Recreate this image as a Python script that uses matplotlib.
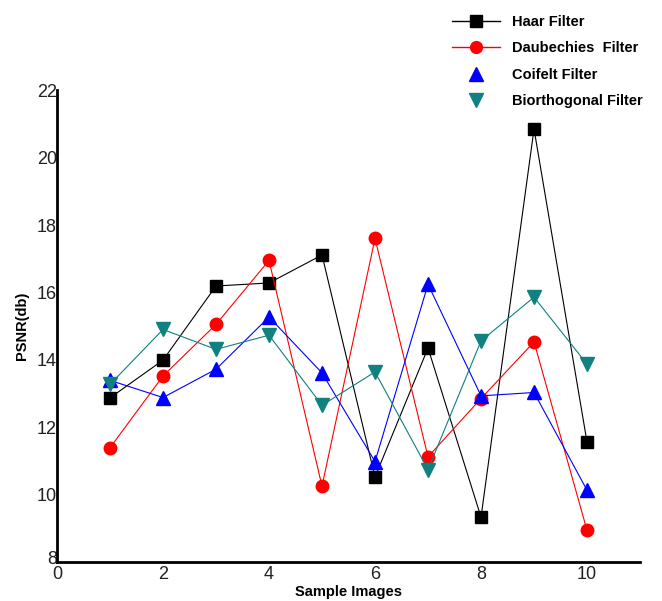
import matplotlib.pyplot as plt
import matplotlib.transforms as mtransforms
from matplotlib.lines import Line2D

images = [1, 2, 3, 4, 5, 6, 7, 8, 9, 10]
haar = [12.87, 13.99, 16.19, 16.28, 17.11, 10.52, 14.35, 9.33, 20.85, 11.56]
daubechies = [11.39, 13.52, 15.05, 16.95, 10.25, 17.60, 11.12, 12.85, 14.53, 8.94]
coifelt = [13.39, 12.88, 13.72, 15.27, 13.61, 10.98, 16.24, 12.93, 13.03, 10.13]
biorthogonal = [13.27, 14.90, 14.31, 14.73, 12.65, 13.64, 10.74, 14.56, 15.86, 13.87]

xticks = [0, 2, 4, 6, 8, 10]
yticks = [8, 10, 12, 14, 16, 18, 20, 22]

fig = plt.figure(figsize=(6.62, 6.01), dpi=100)
ax = fig.add_axes([0.0861, 0.0649, 0.8807, 0.785])

ax.plot(images, haar, color='black', lw=0.8, marker='s', ms=8.5, label='Haar Filter')
ax.plot(images, daubechies, color='red', lw=0.8, marker='o', ms=9, label='Daubechies  Filter')
ax.plot(images, coifelt, color='blue', lw=0.8, marker='^', ms=10, label='Coifelt Filter')
ax.plot(images, biorthogonal, color='#108080', lw=0.8, marker='v', ms=10, label='Biorthogonal Filter')

ax.set_xlim(0, 11)
ax.set_ylim(8, 22)
ax.set_xticks(xticks)
ax.set_yticks(yticks)

for lab in ax.get_xticklabels() + ax.get_yticklabels():
    lab.set_family('Liberation Sans')
    lab.set_fontsize(13)
    lab.set_color('#222222')
ax.tick_params(axis='y', length=0, pad=0)
ax.tick_params(axis='x', length=0, pad=3)

# the bottom "8" sits a bit above the x axis in the original
lab8 = ax.get_yticklabels()[0]
lab8.set_transform(lab8.get_transform() +
                   mtransforms.ScaledTranslation(0, 3 / 72, fig.dpi_scale_trans))

ax.spines['top'].set_visible(False)
ax.spines['right'].set_visible(False)
ax.spines['left'].set_linewidth(2)
ax.spines['bottom'].set_linewidth(2)

ax.set_xlabel('Sample Images', fontweight='bold', fontsize=10.5, family='Liberation Sans', labelpad=1)
ax.set_ylabel('PSNR(db)', fontweight='bold', fontsize=10.5, family='Liberation Sans', labelpad=6)

# legend: first two with line, last two markers only
handles = [
    Line2D([], [], color='black', lw=1, marker='s', ms=8),
    Line2D([], [], color='red', lw=1, marker='o', ms=8.5),
    Line2D([], [], color='blue', lw=0, marker='^', ms=9.5),
    Line2D([], [], color='#108080', lw=0, marker='v', ms=9.5),
]
labels = ['Haar Filter', 'Daubechies  Filter', 'Coifelt Filter', 'Biorthogonal Filter']
fig.legend(handles, labels, loc='upper left', bbox_to_anchor=(0.663, 0.997),
           frameon=False, handlelength=3.3, labelspacing=0.85, handletextpad=0.8,
           prop={'family': 'Liberation Sans', 'weight': 'bold', 'size': 10.5})

fig.savefig('out.png', dpi=100)
